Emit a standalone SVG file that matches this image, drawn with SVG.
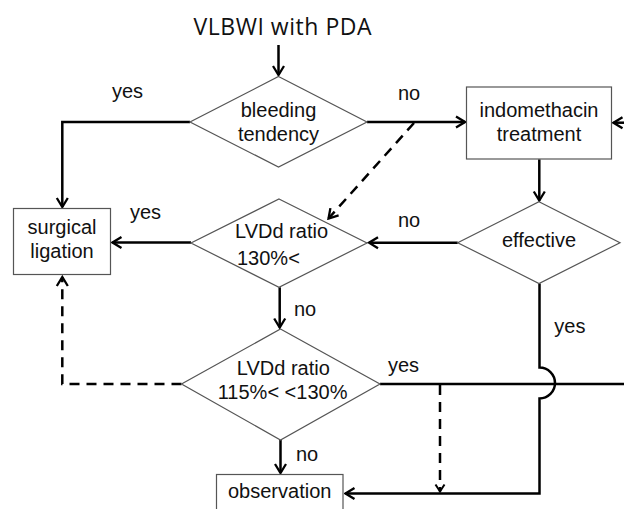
<svg xmlns="http://www.w3.org/2000/svg" width="624" height="509" viewBox="0 0 624 509">
<style>
.shape{fill:#fff;stroke:#555;stroke-width:1.2}
.t{font-family:"Liberation Sans",Arial,sans-serif;font-size:20px;fill:#111}
.c{text-anchor:middle}
.ln{fill:none;stroke:#000;stroke-width:2.5}
.dash{fill:none;stroke:#000;stroke-width:2.5;stroke-dasharray:10,7}
</style>
<defs>
<marker id="ah" viewBox="-12 -8 14 16" refX="0" refY="0" markerWidth="14" markerHeight="16" markerUnits="userSpaceOnUse" orient="auto">
<path d="M-9,-5.5 L0,0 L-9,5.5" fill="none" stroke="#000" stroke-width="2.3"/>
</marker>
<marker id="ahs" viewBox="-10 -7 12 14" refX="0" refY="0" markerWidth="12" markerHeight="14" markerUnits="userSpaceOnUse" orient="auto">
<path d="M-7,-4.5 L0,0 L-7,4.5" fill="none" stroke="#000" stroke-width="2"/>
</marker>
</defs>
<rect width="624" height="509" fill="#fff"/>
<text x="282.5" y="34.7" text-anchor="middle" font-family="'Open Sans','Noto Sans',sans-serif" font-size="23" fill="#111" textLength="178" lengthAdjust="spacing">VLBWI with PDA</text>
<g id="connectors">
<path class="ln" d="M278.5,45 V75" marker-end="url(#ah)"/>
<path class="ln" d="M190,122 H62.3 V207" marker-end="url(#ah)"/>
<path class="ln" d="M367,122 H465" marker-end="url(#ah)"/>
<path class="ln" d="M624,122.7 H613.5" marker-end="url(#ah)"/>
<path class="ln" d="M539.3,159.3 V200.5" marker-end="url(#ah)"/>
<path class="ln" d="M457.7,242.7 H369" marker-end="url(#ah)"/>
<path class="ln" d="M191,242.5 H112.5" marker-end="url(#ah)"/>
<path class="ln" d="M279.7,287.3 V327.5" marker-end="url(#ah)"/>
<path class="ln" d="M280.5,440 V473" marker-end="url(#ah)"/>
<path class="ln" d="M380,384 H624"/>
<path class="ln" d="M539.5,283.5 V367.5 A15.5,15.5 0 0 1 539.5,398.5 V493.5 H345.5" marker-end="url(#ah)"/>
<path class="dash" d="M414,123 L328.5,218.5" marker-end="url(#ah)"/>
<path class="dash" d="M181.5,384 H62.3 V277" marker-end="url(#ah)"/>
<path class="dash" d="M440,385 V491.5" marker-end="url(#ahs)"/>
</g>
<g id="bleeding">
<polygon class="shape" points="278.5,76.5 367,122 278.5,167 190,122"/>
<text class="t c" x="278.5" y="117">bleeding</text>
<text class="t c" x="278.5" y="140.5">tendency</text>
</g>
<g id="indomethacin">
<rect class="shape" x="466.5" y="87" width="145" height="72"/>
<text class="t c" x="539" y="117">indomethacin</text>
<text class="t c" x="539" y="141">treatment</text>
</g>
<g id="surgical">
<rect class="shape" x="13.5" y="208.5" width="97" height="66"/>
<text class="t c" x="62" y="234">surgical</text>
<text class="t c" x="62" y="257.5">ligation</text>
</g>
<g id="lvdd1">
<polygon class="shape" points="279,199 367,243 279,287.3 191,243"/>
<text class="t" x="235" y="238">LVDd ratio</text>
<text class="t" x="237" y="264.5">130%&lt;</text>
</g>
<g id="effective">
<polygon class="shape" points="539,201.7 620,242.7 539,283.5 457.7,242.7"/>
<text class="t c" x="539" y="247">effective</text>
</g>
<g id="lvdd2">
<polygon class="shape" points="280.5,329 380,384 280.5,440 181.5,384"/>
<text class="t c" x="283.3" y="374.7">LVDd ratio</text>
<text class="t c" x="282.6" y="399">115%&lt; &lt;130%</text>
</g>
<g id="observation">
<rect class="shape" x="216.5" y="474.5" width="126.5" height="50"/>
<text class="t c" x="279.7" y="498">observation</text>
</g>
<g id="labels">
<text class="t" x="112" y="98">yes</text>
<text class="t" x="398" y="100">no</text>
<text class="t" x="130" y="219">yes</text>
<text class="t" x="398" y="227">no</text>
<text class="t" x="294" y="315.7">no</text>
<text class="t" x="554.3" y="333">yes</text>
<text class="t" x="388" y="372">yes</text>
<text class="t" x="296" y="460.7">no</text>
</g>
</svg>
